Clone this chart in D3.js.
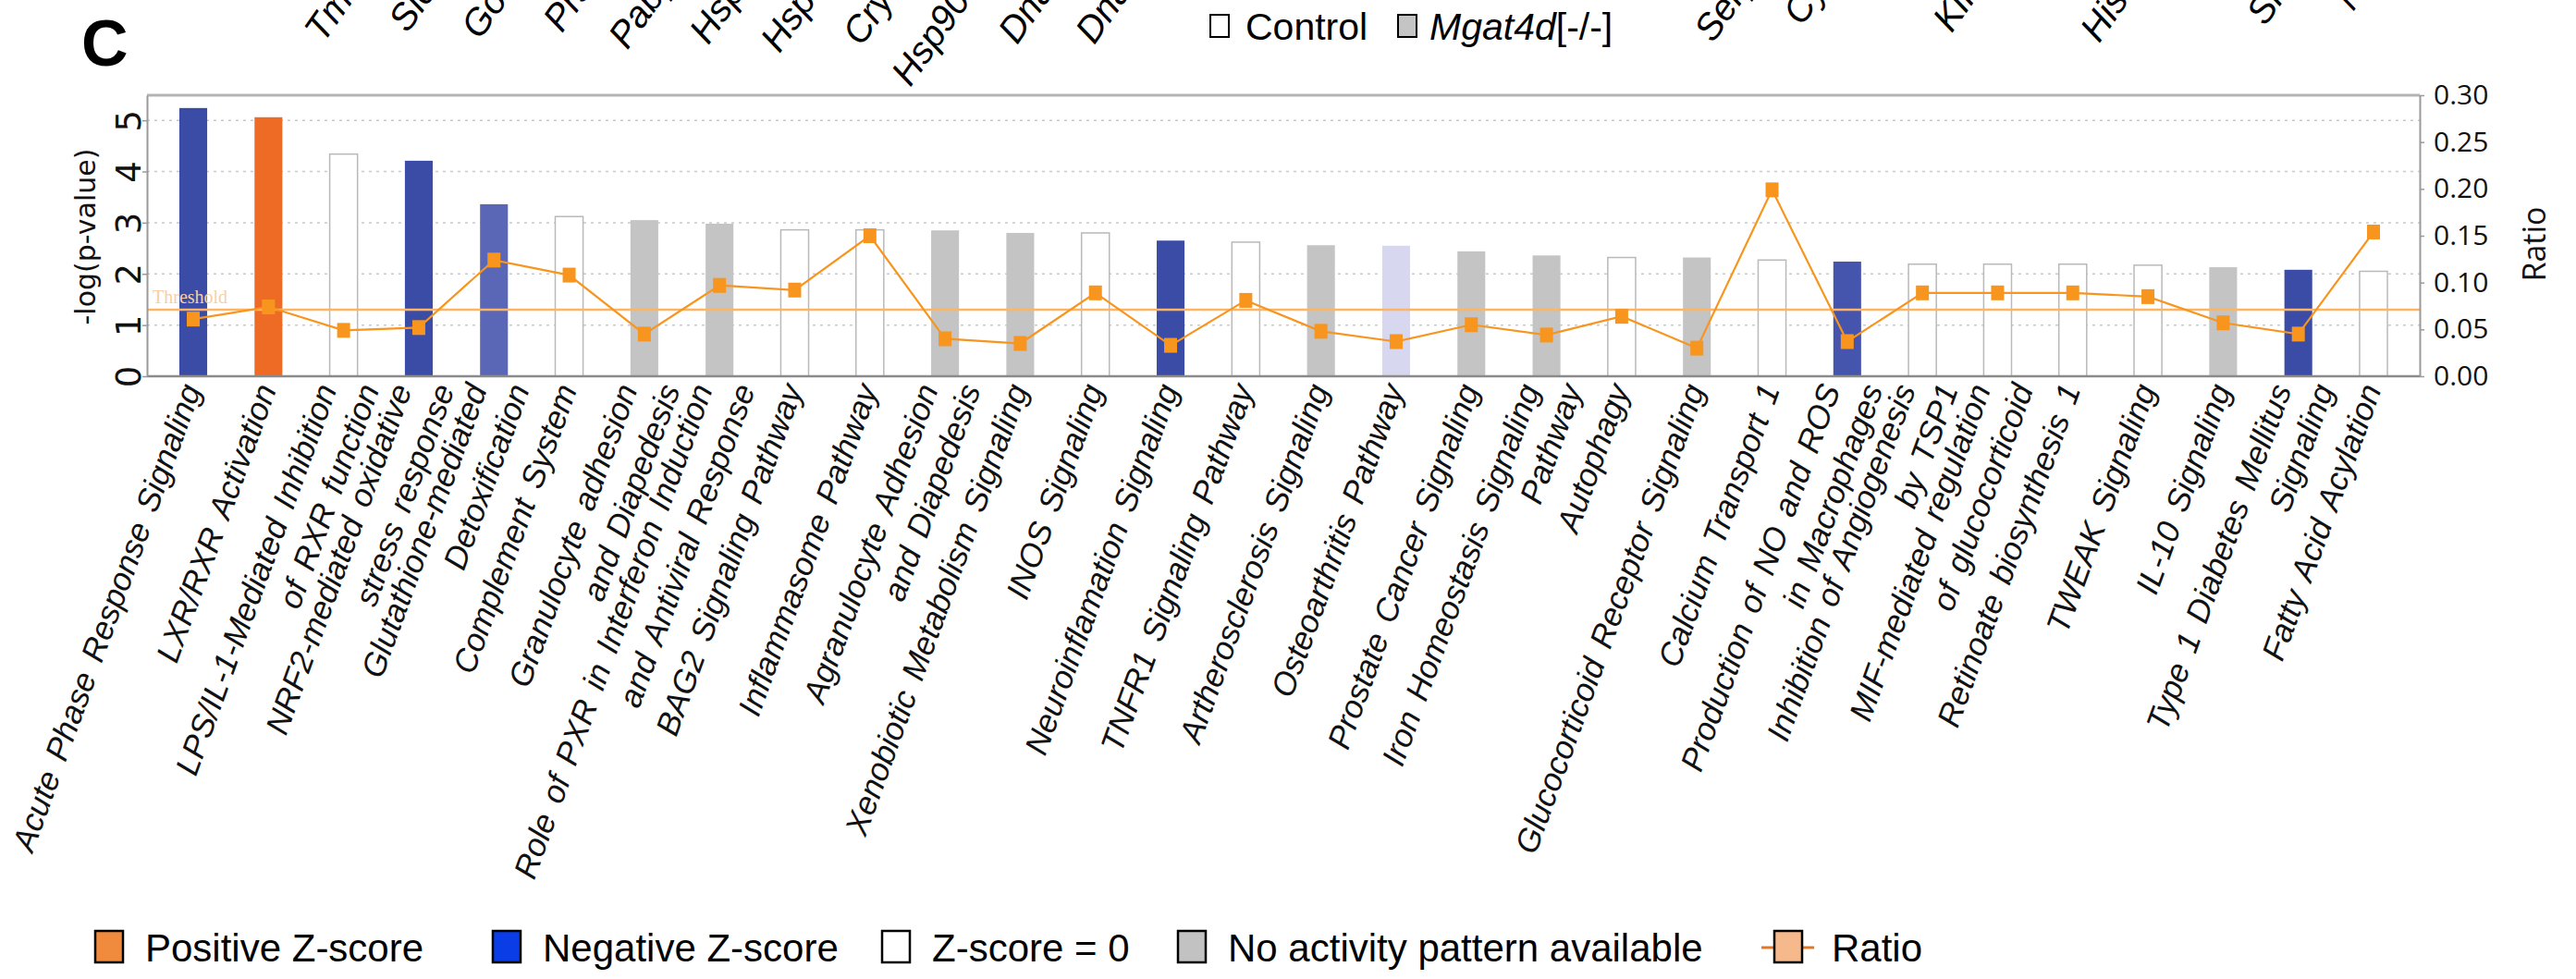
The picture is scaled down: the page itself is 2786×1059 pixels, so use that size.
<!DOCTYPE html>
<html><head><meta charset="utf-8">
<script src="https://cdn.jsdelivr.net/npm/d3@7"></script>
<style>body{margin:0;background:#fff}svg{display:block}</style>
</head><body>
<svg id="c" width="2786" height="1059"></svg>
<script>
// ---------------- data ----------------
const categories = [
  ["Acute Phase Response Signaling"],
  ["LXR/RXR Activation"],
  ["LPS/IL-1-Mediated Inhibition","of RXR function"],
  ["NRF2-mediated oxidative","stress response"],
  ["Glutathione-mediated","Detoxification"],
  ["Complement System"],
  ["Granulocyte adhesion","and Diapedesis"],
  ["Role of PXR in Interferon Induction","and Antiviral Response"],
  ["BAG2 Signaling Pathway"],
  ["Inflammasome Pathway"],
  ["Agranulocyte Adhesion","and Diapedesis"],
  ["Xenobiotic Metabolism Signaling"],
  ["INOS Signaling"],
  ["Neuroinflamation Signaling"],
  ["TNFR1 Signaling Pathway"],
  ["Artherosclerosis Signaling"],
  ["Osteoarthritis Pathway"],
  ["Prostate Cancer Signaling"],
  ["Iron Homeostasis Signaling","Pathway"],
  ["Autophagy"],
  ["Glucocorticoid Receptor Signaling"],
  ["Calcium Transport 1"],
  ["Production of NO and ROS","in Macrophages"],
  ["Inhibition of Angiogenesis","by TSP1"],
  ["MIF-mediated regulation","of glucocorticoid"],
  ["Retinoate biosynthesis 1"],
  ["TWEAK Signaling"],
  ["IL-10 Signaling"],
  ["Type 1 Diabetes Mellitus","Signaling"],
  ["Fatty Acid Acylation"]
];
const negLogP = [5.24,5.06,4.34,4.21,3.36,3.12,3.05,2.98,2.86,2.86,2.85,2.80,2.80,2.65,2.62,
                 2.56,2.55,2.44,2.36,2.32,2.32,2.27,2.24,2.19,2.19,2.19,2.17,2.13,2.08,2.05];
const ratios = [0.061,0.074,0.049,0.052,0.124,0.108,0.045,0.097,0.092,0.150,0.040,0.035,0.089,0.033,0.081,
                0.048,0.037,0.055,0.044,0.064,0.030,0.199,0.037,0.089,0.089,0.089,0.085,0.057,0.045,0.154];
const zClass = ["neg","pos","zero","neg","negLight","zero","na","na","zero","zero","na","na","zero","neg","zero",
                "na","lav","na","na","zero","na","zero","negMid","zero","zero","zero","zero","na","neg","zero"];
const leftTicks = [0,1,2,3,4,5];
const rightTicks = [0,0.05,0.10,0.15,0.20,0.25,0.30];
const threshold = 1.3;
// cut-off gene labels of the panel above
const geneNames = ["Tmem86b","Slc25a37","Gorasp2b","Prss42ps","Pabpc1l2a","Hsp90ab1","Hspa5-ps1","Cryab-ps1",
                   "Hsp90aa1-ps","Dnaja1-ps","Dnajb1-ps","Serpina3k","Cyp2c29","Kif5c-ps1","Hist1h2ab","Smpdl3a","Nudcd3"];
const geneSlots = [0,1,2,3,4,5,6,7,8,9,10,18,19,21,23,25,26];
const legendLabels = ["Positive Z-score","Negative Z-score","Z-score = 0","No activity pattern available","Ratio"];

// ---------------- styles ----------------
const fillOf = {pos:"#ee6b26", neg:"#3a4ca6", negLight:"#5a67b7", negMid:"#4555ae", zero:"#ffffff", na:"#c4c4c4", lav:"#d7d7f0"};
const svg = d3.select("#c");
const L = 159, R = 2617, T = 103, B = 407;

const x = d3.scaleBand().domain(d3.range(categories.length)).range([L, R]).paddingInner(0.63).paddingOuter(0.43);
const yL = d3.scaleLinear().domain([0, 5.49]).range([B, T]);
const yR = d3.scaleLinear().domain([0, 0.30]).range([B, T]);
const cx = i => x(i) + x.bandwidth() / 2;

// gridlines
svg.append("g").selectAll("line").data(leftTicks.filter(d => d > 0)).join("line")
  .attr("x1", L).attr("x2", R).attr("y1", d => yL(d)).attr("y2", d => yL(d))
  .attr("stroke", "#c9c9c9").attr("stroke-width", 1.5).attr("stroke-dasharray", "3,5");

// bars
svg.append("g").selectAll("rect").data(negLogP).join("rect")
  .attr("x", (d, i) => x(i)).attr("width", x.bandwidth())
  .attr("y", d => yL(d)).attr("height", d => yL(0) - yL(d))
  .attr("fill", (d, i) => fillOf[zClass[i]])
  .attr("stroke", (d, i) => zClass[i] === "zero" ? "#b9b9b9" : "none")
  .attr("stroke-width", 1.5);

// threshold
svg.append("line").attr("x1", L).attr("x2", R).attr("y1", yL(threshold)).attr("y2", yL(threshold))
  .attr("stroke", "#ffb461").attr("stroke-width", 2.5);
svg.append("text").attr("x", L + 6).attr("y", yL(threshold) - 7).text("Threshold")
  .attr("font-family", "Liberation Serif").attr("font-size", 20).attr("fill", "#f7cfa6");

// ratio line + markers
const line = d3.line().x((d, i) => cx(i)).y(d => yR(d));
svg.append("path").datum(ratios).attr("d", line).attr("fill", "none")
  .attr("stroke", "#f7951e").attr("stroke-width", 2.2);
svg.append("g").selectAll("rect").data(ratios).join("rect")
  .attr("x", (d, i) => cx(i) - 7).attr("y", d => yR(d) - 8).attr("width", 14).attr("height", 16)
  .attr("fill", "#f7951e");

// frame
svg.append("line").attr("x1", L).attr("x2", R).attr("y1", T).attr("y2", T).attr("stroke", "#b3b3b3").attr("stroke-width", 3);
svg.append("line").attr("x1", L).attr("x2", R).attr("y1", B).attr("y2", B).attr("stroke", "#8a8a8a").attr("stroke-width", 2.5);

// left axis
const gl = svg.append("g").attr("transform", `translate(${L},0)`)
  .call(d3.axisLeft(yL).tickValues(leftTicks).tickSize(5).tickSizeOuter(0).tickFormat(d3.format("d")));
gl.select(".domain").attr("stroke", "#9a9a9a").attr("stroke-width", 2);
gl.selectAll(".tick line").attr("stroke", "#9a9a9a").attr("stroke-width", 1.5);
gl.selectAll(".tick text").attr("transform", "rotate(-90)").attr("x", 0).attr("y", -7).attr("dy", 0)
  .attr("text-anchor", "middle").attr("font-family", "DejaVu Sans").attr("font-size", 37).attr("fill", "#111");
svg.append("text").attr("transform", "translate(103,256) rotate(-90)").attr("text-anchor", "middle")
  .attr("font-family", "DejaVu Sans").attr("font-size", 30).attr("fill", "#111").text("-log(p-value)");

// right axis
const gr = svg.append("g").attr("transform", `translate(${R},0)`)
  .call(d3.axisRight(yR).tickValues(rightTicks).tickSize(5).tickSizeOuter(0).tickPadding(10).tickFormat(d3.format(".2f")));
gr.select(".domain").attr("stroke", "#9a9a9a").attr("stroke-width", 2);
gr.selectAll(".tick line").attr("stroke", "#9a9a9a").attr("stroke-width", 1.5);
gr.selectAll(".tick text").attr("font-family", "Open Sans").attr("font-size", 30).attr("fill", "#111");
svg.append("text").attr("transform", "translate(2753,264) rotate(-90)").attr("text-anchor", "middle")
  .attr("font-family", "Open Sans").attr("font-size", 34).attr("fill", "#111").text("Ratio");

// category labels
const lab = svg.append("g").attr("font-family", "Liberation Sans").attr("font-style", "italic")
  .attr("font-size", 35).attr("fill", "#111").attr("word-spacing", 5);
categories.forEach((lines, i) => {
  lines.forEach((t, j) => {
    const ax = cx(i) + 9 + j * 46 - (lines.length - 1) * 16;
    lab.append("text").attr("transform", `translate(${ax},${B + 14}) rotate(-70)`)
      .attr("text-anchor", "end").text(t);
  });
});

// panel letter
svg.append("text").attr("x", 88).attr("y", 71).text("C")
  .attr("font-family", "Liberation Sans").attr("font-weight", "bold").attr("font-size", 70).attr("fill", "#000");

// cut-off gene labels from the panel above
const gx = d3.scaleLinear().domain([0, 1]).range([453, 536.5]);
svg.append("g").attr("font-family", "Liberation Sans").attr("font-style", "italic").attr("font-size", 40).attr("fill", "#000")
  .selectAll("text").data(geneNames).join("text")
  .attr("transform", (d, i) => `translate(${gx(geneSlots[i])},-100) rotate(-55)`)
  .attr("text-anchor", "end").text(d => d);

// top legend (panel above)
const tl = svg.append("g").attr("font-family", "Liberation Sans").attr("font-size", 41).attr("fill", "#000");
tl.append("rect").attr("x", 1309).attr("y", 16).attr("width", 20).attr("height", 24).attr("fill", "#fff").attr("stroke", "#000").attr("stroke-width", 2);
tl.append("text").attr("x", 1347).attr("y", 43).text("Control");
tl.append("rect").attr("x", 1512).attr("y", 16).attr("width", 20).attr("height", 24).attr("fill", "#c4c4c4").attr("stroke", "#000").attr("stroke-width", 2);
const mt = tl.append("text").attr("x", 1546).attr("y", 43);
mt.append("tspan").attr("font-style", "italic").text("Mgat4d");
mt.append("tspan").text("[-/-]");

// bottom legend
const legFill = ["#f08a3c", "#0a3de6", "#ffffff", "#c2c2c2", "#f6b98c"];
const legX = [103, 533, 954, 1274, 1919];
const lg = svg.append("g").attr("font-family", "Liberation Sans").attr("font-size", 42).attr("fill", "#000");
legendLabels.forEach((t, i) => {
  if (i === 4) {
    lg.append("line").attr("x1", legX[i] - 14).attr("x2", legX[i] + 43).attr("y1", 1025).attr("y2", 1025)
      .attr("stroke", "#e0772a").attr("stroke-width", 3);
  }
  lg.append("rect").attr("x", legX[i]).attr("y", 1007).attr("width", 30).attr("height", 34)
    .attr("fill", legFill[i]).attr("stroke", "#000").attr("stroke-width", 2.5);
  lg.append("text").attr("x", legX[i] + (i === 4 ? 62 : 54)).attr("y", 1040).text(t);
});
</script>
</body></html>
